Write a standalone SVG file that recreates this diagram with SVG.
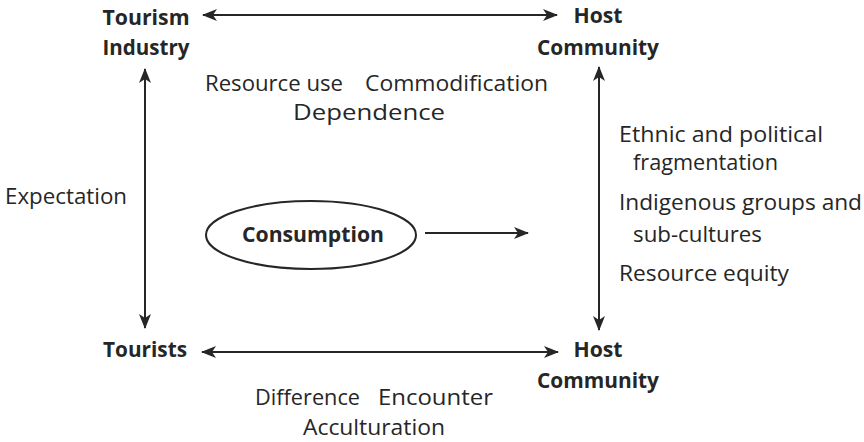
<svg xmlns="http://www.w3.org/2000/svg" width="864" height="442" viewBox="0 0 864 442">
<defs>
<style>
text{font-family:"Open Sans","Noto Sans","DejaVu Sans",sans-serif;font-size:21px;fill:#262626}
.b{font-weight:bold}
.ln{stroke:#262626;stroke-width:2;fill:none}
</style>
<marker id="ah" markerUnits="userSpaceOnUse" markerWidth="16" markerHeight="12" refX="14" refY="6" orient="auto-start-reverse">
<path d="M0,0 L15,6 L0,12 L4,6 Z" fill="#262626"/>
</marker>
</defs>
<rect width="864" height="442" fill="#fff"/>
<g id="tourism-industry">
<text class="b" x="146" y="25" text-anchor="middle" textLength="87" lengthAdjust="spacingAndGlyphs">Tourism</text>
<text class="b" x="146" y="55" text-anchor="middle" textLength="87" lengthAdjust="spacingAndGlyphs">Industry</text>
</g>
<g id="host-community-top">
<text class="b" x="598" y="23" text-anchor="middle" textLength="49" lengthAdjust="spacingAndGlyphs">Host</text>
<text class="b" x="598" y="55" text-anchor="middle" textLength="122" lengthAdjust="spacingAndGlyphs">Community</text>
</g>
<g id="tourists">
<text class="b" x="145" y="357" text-anchor="middle" textLength="84" lengthAdjust="spacingAndGlyphs">Tourists</text>
</g>
<g id="host-community-bottom">
<text class="b" x="598" y="357" text-anchor="middle" textLength="49" lengthAdjust="spacingAndGlyphs">Host</text>
<text class="b" x="598" y="388" text-anchor="middle" textLength="122" lengthAdjust="spacingAndGlyphs">Community</text>
</g>
<g id="consumption">
<ellipse cx="311" cy="235" rx="105" ry="34" class="ln" stroke-width="1.8"/>
<text class="b" x="313" y="242" text-anchor="middle" textLength="142" lengthAdjust="spacingAndGlyphs">Consumption</text>
</g>
<g id="connectors">
<line class="ln" x1="203" y1="15" x2="557" y2="15" marker-start="url(#ah)" marker-end="url(#ah)"/>
<line class="ln" x1="202" y1="352" x2="558" y2="352" marker-start="url(#ah)" marker-end="url(#ah)"/>
<line class="ln" x1="145" y1="69" x2="145" y2="328" marker-start="url(#ah)" marker-end="url(#ah)"/>
<line class="ln" x1="599" y1="67" x2="599" y2="330" marker-start="url(#ah)" marker-end="url(#ah)"/>
<line class="ln" x1="425" y1="233" x2="528" y2="233" marker-end="url(#ah)"/>
</g>
<g id="labels">
<text x="205" y="91" textLength="138" lengthAdjust="spacingAndGlyphs">Resource use</text>
<text x="365" y="91" textLength="183" lengthAdjust="spacingAndGlyphs">Commodification</text>
<text x="293" y="120" textLength="152" lengthAdjust="spacingAndGlyphs">Dependence</text>
<text x="5" y="204" textLength="122" lengthAdjust="spacingAndGlyphs">Expectation</text>
<text x="619" y="142" textLength="204" lengthAdjust="spacingAndGlyphs">Ethnic and political</text>
<text x="633" y="170" textLength="145" lengthAdjust="spacingAndGlyphs">fragmentation</text>
<text x="619" y="210" textLength="243" lengthAdjust="spacingAndGlyphs">Indigenous groups and</text>
<text x="633" y="242" textLength="129" lengthAdjust="spacingAndGlyphs">sub-cultures</text>
<text x="619" y="281" textLength="170" lengthAdjust="spacingAndGlyphs">Resource equity</text>
<text x="255" y="405" textLength="105" lengthAdjust="spacingAndGlyphs">Difference</text>
<text x="378" y="405" textLength="115" lengthAdjust="spacingAndGlyphs">Encounter</text>
<text x="303" y="435" textLength="142" lengthAdjust="spacingAndGlyphs">Acculturation</text>
</g>
</svg>
